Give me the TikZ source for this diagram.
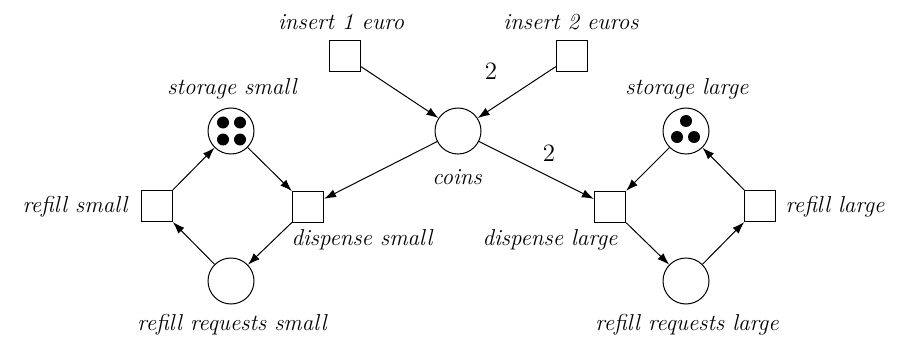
\documentclass[tikz,border=0pt]{standalone}
\usetikzlibrary{arrows.meta}
\begin{document}
\begin{tikzpicture}[x=0.5pt,y=-0.5pt,
  every node/.style={font=\fontsize{11.5}{14}\selectfont},
  place/.style={draw,circle,minimum size=23pt,inner sep=0pt,line width=0.5pt},
  trans/.style={draw,rectangle,minimum size=15.5pt,inner sep=0pt,line width=0.6pt},
  lbl/.style={font=\fontsize{11.5}{14}\selectfont\itshape,inner sep=0pt},
  wlbl/.style={font=\fontsize{12.5}{15}\selectfont,inner sep=0pt},
  arc/.style={-{Latex[length=6pt,width=4.2pt]},line width=0.5pt},
  tok/.style={fill=black,circle,inner sep=0pt,minimum size=6pt}]
\useasboundingbox (0,0) rectangle (904,342);
% places
\node[place] (coins) at (458,131) {};
\node[place] (ss) at (231,131) {};
\node[place] (sl) at (686,131) {};
\node[place] (rrs) at (231,281) {};
\node[place] (rrl) at (686,281) {};
% tokens
\node[tok] (ss1) at (223,122.5) {};
\node[tok] (ss2) at (240,122.5) {};
\node[tok] (ss3) at (223,139.5) {};
\node[tok] (ss4) at (240,139.5) {};
\node[tok] (sl1) at (686,121) {};
\node[tok] (sl2) at (677,137) {};
\node[tok] (sl3) at (694,137) {};
% transitions
\node[trans] (i1) at (345,56) {};
\node[trans] (i2) at (572,56) {};
\node[trans] (ds) at (308,207) {};
\node[trans] (rs) at (157,206) {};
\node[trans] (dl) at (610,207) {};
\node[trans] (rl) at (760,206) {};
% labels
\node[lbl] (t1) at (341,22) {insert 1 euro};
\node[lbl] (t2) at (571,22) {insert 2 euros};
\node[lbl] (t3) at (232,89) {storage small};
\node[lbl] (t4) at (687,89) {storage large};
\node[lbl] (t5) at (457,177) {coins};
\node[lbl] (t6) at (75,207) {refill small};
\node[lbl] (t7) at (362,240) {dispense small};
\node[lbl] (t8) at (550,240) {dispense large};
\node[lbl] (t9) at (835,207) {refill large};
\node[lbl] (t10) at (232,325) {refill requests small};
\node[lbl] (t11) at (687,325) {refill requests large};
\node[wlbl] (w1) at (491,71) {2};
\node[wlbl] (w2) at (549,153) {2};
% arcs
\draw[arc] (i1) -- (coins);
\draw[arc] (i2) -- (coins);
\draw[arc] (coins) -- (ds);
\draw[arc] (coins) -- (dl);
\draw[arc] (ss) -- (ds);
\draw[arc] (ds) -- (rrs);
\draw[arc] (rrs) -- (rs);
\draw[arc] (rs) -- (ss);
\draw[arc] (sl) -- (dl);
\draw[arc] (dl) -- (rrl);
\draw[arc] (rrl) -- (rl);
\draw[arc] (rl) -- (sl);
\end{tikzpicture}
\end{document}
